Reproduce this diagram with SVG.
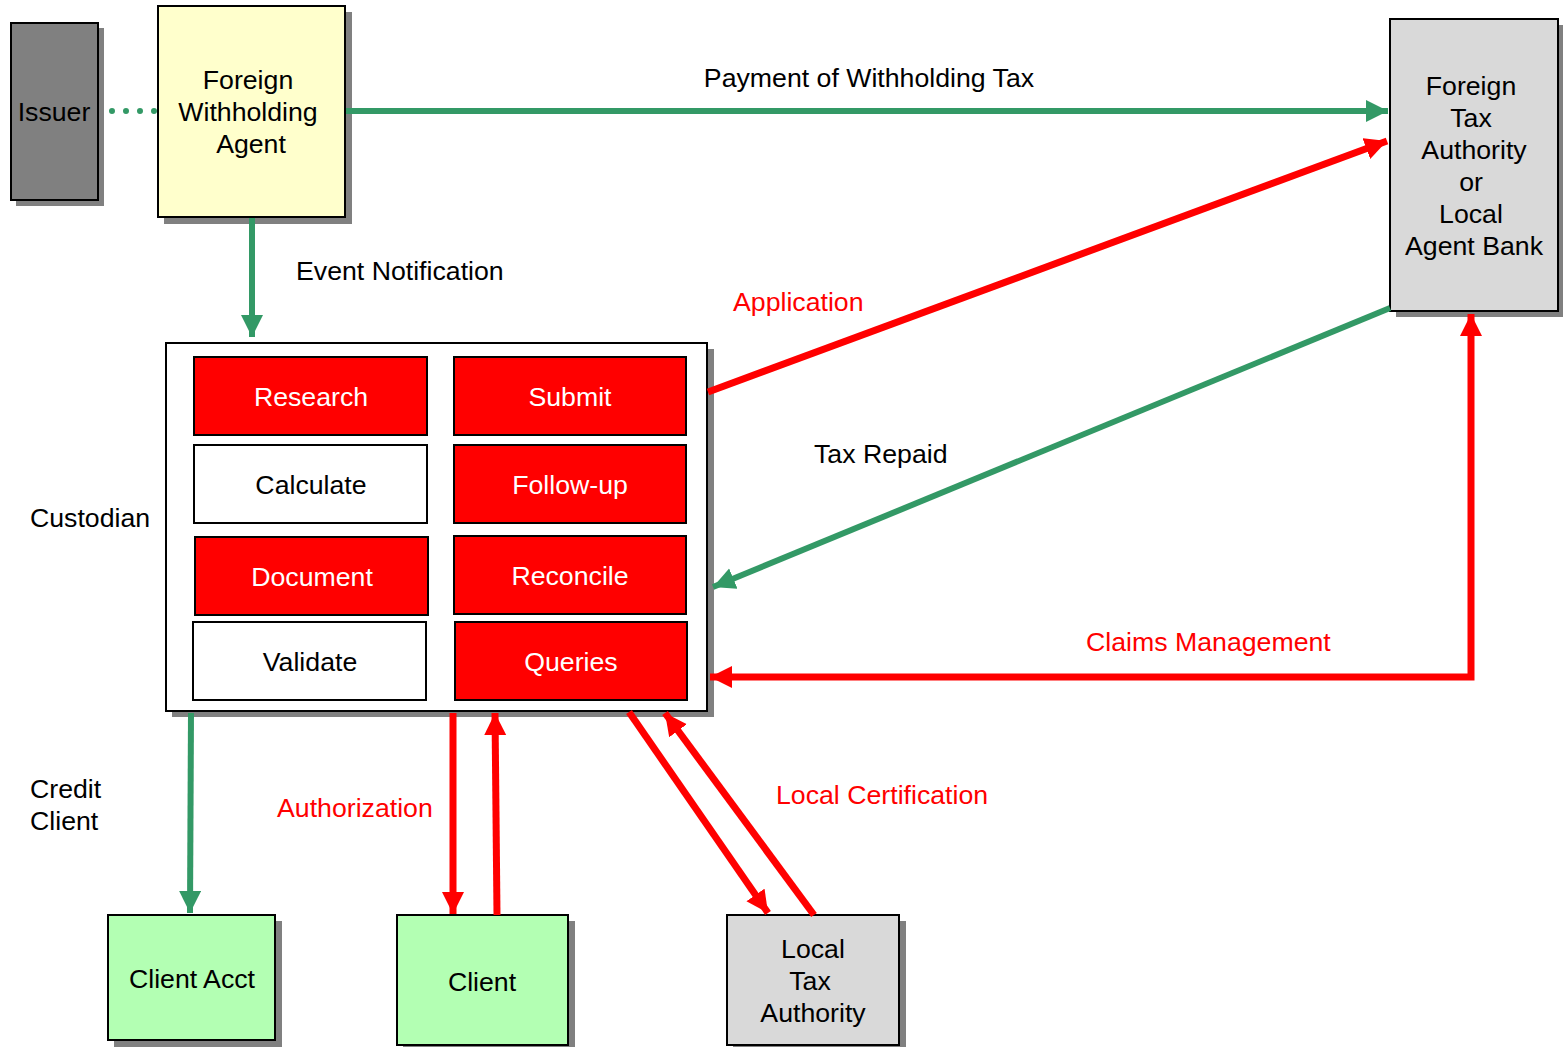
<svg xmlns="http://www.w3.org/2000/svg" width="1563" height="1047" viewBox="0 0 1563 1047">
<style>
text{font-family:"Liberation Sans",Arial,sans-serif;font-size:26.7px;fill:#000}
.c{text-anchor:middle}
.r{fill:#FF0000}
.w{fill:#FFFFFF}
.sh{fill:#808080}
.bx{stroke:#000;stroke-width:2}
.g{stroke:#339966;stroke-width:6;fill:none}
.rd{stroke:#FF0000;stroke-width:7;fill:none}
</style>
<defs>
<marker id="ag" markerUnits="userSpaceOnUse" markerWidth="24" markerHeight="24" refX="22" refY="11" orient="auto-start-reverse" viewBox="0 0 24 24"><path d="M0,0 L22,11 L0,22 z" fill="#339966"/></marker>
<marker id="ar" markerUnits="userSpaceOnUse" markerWidth="24" markerHeight="24" refX="22" refY="11" orient="auto-start-reverse" viewBox="0 0 24 24"><path d="M0,0 L22,11 L0,22 z" fill="#FF0000"/></marker>
</defs>
<rect width="1563" height="1047" fill="#FFFFFF"/>
<g id="issuer">
<rect class="sh" x="16" y="28" width="88" height="178"/>
<rect class="bx" x="11" y="23" width="87" height="177" fill="#808080"/>
<text class="c" x="54" y="121">Issuer</text>
</g>
<g id="fwa">
<rect class="sh" x="164" y="12" width="188" height="212"/>
<rect class="bx" x="158" y="6" width="187" height="211" fill="#FFFFCC"/>
<text class="c" x="248" y="89">Foreign</text>
<text class="c" x="248" y="121">Withholding</text>
<text class="c" x="251" y="153">Agent</text>
</g>
<g id="fta">
<rect class="sh" x="1396" y="25" width="167" height="292"/>
<rect class="bx" x="1390" y="19" width="168" height="292" fill="#D9D9D9"/>
<text class="c" x="1471" y="95">Foreign</text>
<text class="c" x="1471" y="127">Tax</text>
<text class="c" x="1474" y="159">Authority</text>
<text class="c" x="1471" y="191">or</text>
<text class="c" x="1471" y="223">Local</text>
<text class="c" x="1474" y="255">Agent Bank</text>
</g>
<g id="custodian">
<rect class="sh" x="172" y="349" width="542" height="368"/>
<rect class="bx" x="166" y="343" width="541" height="368" fill="#FFFFFF"/>
</g>
<g id="research"><rect class="bx" x="194" y="357" width="233" height="78" fill="#FF0000"/><text class="c w" x="311" y="406">Research</text></g>
<g id="submit"><rect class="bx" x="454" y="357" width="232" height="78" fill="#FF0000"/><text class="c w" x="570" y="406">Submit</text></g>
<g id="calculate"><rect class="bx" x="194" y="445" width="233" height="78" fill="#FFFFFF"/><text class="c" x="311" y="494">Calculate</text></g>
<g id="followup"><rect class="bx" x="454" y="445" width="232" height="78" fill="#FF0000"/><text class="c w" x="570" y="494">Follow-up</text></g>
<g id="document"><rect class="bx" x="195" y="537" width="233" height="78" fill="#FF0000"/><text class="c w" x="312" y="586">Document</text></g>
<g id="reconcile"><rect class="bx" x="454" y="536" width="232" height="78" fill="#FF0000"/><text class="c w" x="570" y="585">Reconcile</text></g>
<g id="validate"><rect class="bx" x="193" y="622" width="233" height="78" fill="#FFFFFF"/><text class="c" x="310" y="671">Validate</text></g>
<g id="queries"><rect class="bx" x="455" y="622" width="232" height="78" fill="#FF0000"/><text class="c w" x="571" y="671">Queries</text></g>
<g id="clientacct">
<rect class="sh" x="114" y="921" width="168" height="126"/>
<rect class="bx" x="108" y="915" width="167" height="125" fill="#B3FFB3"/>
<text class="c" x="192" y="988">Client Acct</text>
</g>
<g id="client">
<rect class="sh" x="403" y="921" width="172" height="126"/>
<rect class="bx" x="397" y="915" width="171" height="130" fill="#B3FFB3"/>
<text class="c" x="482" y="991">Client</text>
</g>
<g id="lta">
<rect class="sh" x="733" y="921" width="173" height="126"/>
<rect class="bx" x="727" y="915" width="172" height="130" fill="#D9D9D9"/>
<text class="c" x="813" y="958">Local</text>
<text class="c" x="810" y="990">Tax</text>
<text class="c" x="813" y="1022">Authority</text>
</g>
<g id="connectors">
<line x1="112" y1="111" x2="156" y2="111" stroke="#339966" stroke-width="6" stroke-linecap="round" stroke-dasharray="0 14"/>
<line class="g" x1="346" y1="111" x2="1388" y2="111" marker-end="url(#ag)"/>
<line class="g" x1="252" y1="218" x2="252" y2="337" marker-end="url(#ag)"/>
<line class="rd" x1="708" y1="392" x2="1387" y2="141" marker-end="url(#ar)"/>
<line class="g" x1="1390" y1="308" x2="713" y2="587" marker-end="url(#ag)"/>
<polyline class="rd" points="1471,314 1471,677 710,677" marker-start="url(#ar)" marker-end="url(#ar)"/>
<line class="g" x1="191" y1="713" x2="190" y2="913" marker-end="url(#ag)"/>
<line class="rd" x1="453" y1="713" x2="453" y2="914" marker-end="url(#ar)"/>
<line class="rd" x1="497" y1="915" x2="495" y2="713" marker-end="url(#ar)"/>
<line class="rd" x1="629" y1="712" x2="768" y2="913" marker-end="url(#ar)"/>
<line class="rd" x1="814" y1="915" x2="665" y2="713" marker-end="url(#ar)"/>
</g>
<g id="labels">
<text class="c" x="869" y="87">Payment of Withholding Tax</text>
<text x="296" y="280">Event Notification</text>
<text class="r" x="733" y="311">Application</text>
<text x="814" y="463">Tax Repaid</text>
<text x="30" y="527">Custodian</text>
<text class="r" x="1086" y="651">Claims Management</text>
<text x="30" y="798">Credit</text>
<text x="30" y="830">Client</text>
<text class="r" x="277" y="817">Authorization</text>
<text class="r" x="776" y="804">Local Certification</text>
</g>
</svg>
